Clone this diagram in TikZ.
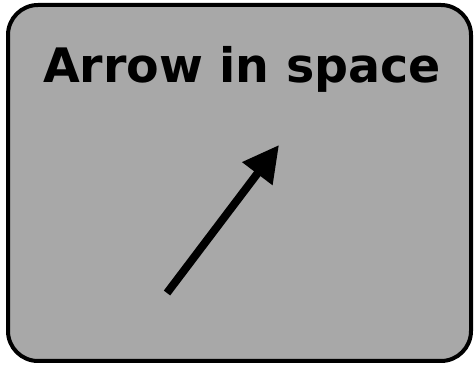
\documentclass[tikz,border=0pt]{standalone}
\usepackage{fontspec}
\setsansfont{DejaVu Sans}
\usetikzlibrary{arrows.meta}
\begin{document}
\begin{tikzpicture}[x=1pt,y=-1pt,line join=round]
\useasboundingbox (0,0) rectangle (475,366);
\draw[line width=4pt, fill={rgb,255:red,168;green,168;blue,168}, rounded corners=30pt] (8,5) rectangle (471,361);
\node[anchor=base, font=\sffamily\bfseries\fontsize{47.5}{56}\selectfont, inner sep=0pt] (title) at (242,83) {Arrow in space};
\coordinate (tail) at (167,293);
\coordinate (head) at (279,145);
\draw[line width=8pt, -{Triangle[length=36pt,width=36pt]}] (tail) -- (head);
\end{tikzpicture}
\end{document}
